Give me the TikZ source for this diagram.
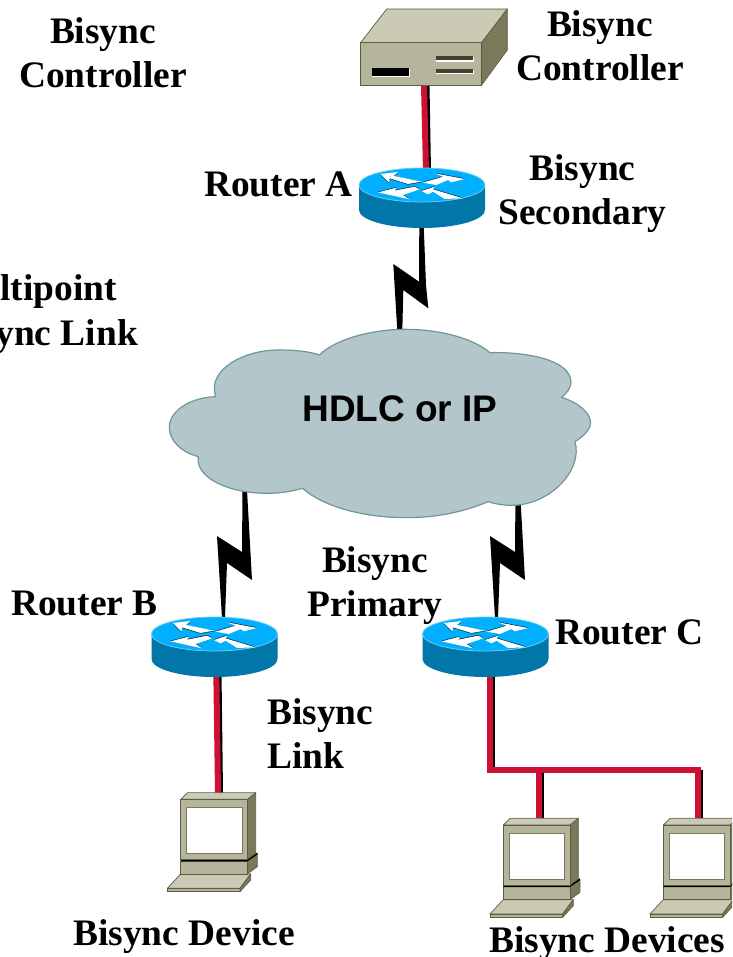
\documentclass[tikz,border=0pt]{standalone}
\usepackage{fontspec}
\setmainfont{Liberation Serif}
\newfontfamily\labelsans{Liberation Sans}
\usetikzlibrary{calc}
\definecolor{cloudfill}{HTML}{B3C6C9}
\definecolor{cloudedge}{HTML}{6F9699}
\definecolor{rtop}{HTML}{00B0FF}
\definecolor{rside}{HTML}{0077A8}
\definecolor{rrim}{HTML}{66CCF5}
\definecolor{devfront}{HTML}{B5B59B}
\definecolor{devtop}{HTML}{CBCBB5}
\definecolor{devside}{HTML}{7A7A5A}
\definecolor{devedge}{HTML}{5C5C44}
\definecolor{linkred}{HTML}{CC1133}
\tikzset{
  lbl/.style={font=\bfseries\fontsize{37.4}{44}\selectfont,inner sep=0pt,text=black},
  anchorbox/.style={inner sep=0pt,minimum width=#1,minimum height=1pt},
  shadowline/.style={draw=black,line width=6pt},
  redline/.style={draw=linkred,line width=6pt},
  devpart/.style={draw=devedge,line width=0.7pt,line join=round},
  bolt/.style={fill=black},
  router/.pic={
    \path[fill=rside] (-63,0) -- (-63,25) arc[start angle=180,end angle=0,x radius=63,y radius=18] -- (63,0) -- cycle;
    \path[fill=rtop,draw=rrim,line width=0.8pt] (0,0) ellipse[x radius=63,y radius=17];
    \begin{scope}[x=0.3333pt,y=-0.3333pt]
      \fill[black,opacity=0.75,shift={(0,2)}] (-125,-33)--(-72,-39)--(-85,-27)--(-2,-10)--(-42,-3)--(-97,-20)--(-99,-7)--cycle;
      \fill[black,opacity=0.75,shift={(0,-2)}] (3,-7)--(63,-25)--(38,-35)--(128,-18)--(88,-8)--(78,-15)--(43,0)--cycle;
      \fill[black,opacity=0.75,shift={(0,-2)}] (-132,22)--(-77,8)--(-82,17)--(-22,5)--(-7,13)--(-57,30)--(-37,43)--cycle;
      \fill[black,opacity=0.75,shift={(0,-2)}] (-2,18)--(38,5)--(33,13)--(123,40)--(68,42)--(33,20)--(18,28)--cycle;
      \fill[white] (-125,-33)--(-72,-39)--(-85,-27)--(-2,-10)--(-42,-3)--(-97,-20)--(-99,-7)--cycle;
      \fill[white] (3,-7)--(63,-25)--(38,-35)--(128,-18)--(88,-8)--(78,-15)--(43,0)--cycle;
      \fill[white] (-132,22)--(-77,8)--(-82,17)--(-22,5)--(-7,13)--(-57,30)--(-37,43)--cycle;
      \fill[white] (-2,18)--(38,5)--(33,13)--(123,40)--(68,42)--(33,20)--(18,28)--cycle;
    \end{scope}
  },
  terminal/.pic={
    \begin{scope}[x=0.3333pt,y=-0.3333pt]
      \path[fill=devtop,devpart] (-40,267)--(0,224)--(210,224)--(178,267)--cycle;
      \path[fill=devfront,devpart] (-40,267)--(178,267)--(178,277)--(-40,277)--cycle;
      \path[fill=devside,devpart] (178,267)--(210,224)--(210,242)--(178,277)--cycle;
      \path[fill=devside,devpart] (200,185)--(230,162)--(230,202)--(200,224)--cycle;
      \path[fill=devfront,devpart] (0,185)--(200,185)--(200,224)--(0,224)--cycle;
      \fill[black] (0,180)--(200,180)--(230,160)--(230,166)--(200,186)--(0,186)--cycle;
      \path[fill=devside,devpart] (200,0)--(225,-20)--(225,162)--(200,180)--cycle;
      \path[fill=devtop,devpart] (0,0)--(20,-20)--(225,-20)--(200,0)--cycle;
      \path[fill=devfront,devpart] (0,0) rectangle (200,180);
      \path[fill=white,draw=devside,line width=1pt] (18,25) rectangle (185,162);
    \end{scope}
  },
}
\begin{document}
\begin{tikzpicture}[x=1pt,y=-1pt]
\useasboundingbox (0,0) rectangle (732,957);
\clip (0,0) rectangle (732,957);

% invisible named anchors
\node[anchorbox=120pt] (ctrl) at (421,85) {};
\node[anchorbox=126pt] (ra) at (422,172) {};
\node[anchorbox=126pt] (raB) at (422,228) {};
\node[anchorbox=126pt] (rb) at (214.5,617) {};
\node[anchorbox=126pt] (rbB) at (214.5,672) {};
\node[anchorbox=126pt] (rc) at (485.5,617) {};
\node[anchorbox=126pt] (rcB) at (485.5,672) {};
\node[anchorbox=66pt] (pcb) at (214,793) {};
\node[anchorbox=66pt] (pcx) at (537,818) {};
\node[anchorbox=66pt] (pcy) at (697,818) {};
\coordinate (busl) at (489.5,769.5);
\coordinate (busr) at (698,769.5);
\coordinate (tap) at (538.7,769.5);

% links with black shadow
\draw[shadowline] ([xshift=5.5pt]ctrl.center) -- ([xshift=6pt]ra.center);
\draw[redline] ([xshift=3pt]ctrl.center) -- ([xshift=4pt]ra.center);
\draw[shadowline] ([xshift=4pt]rbB.center) -- ([xshift=6pt]pcb.center);
\draw[redline] ([xshift=1.8pt]rbB.center) -- ([xshift=4pt]pcb.center);
\draw[shadowline] ([xshift=6.5pt]rcB.center) -- ([xshift=2.5pt]busl);
\draw[shadowline] ([xshift=2pt]tap) -- ([xshift=3.7pt]pcx.center);
\draw[shadowline] ([xshift=2pt]busr) -- ([xshift=3pt]pcy.center);
\draw[redline] ([xshift=4pt]rcB.center) -- (busl);
\draw[redline] (tap) -- ([xshift=1.7pt]pcx.center);
\draw[redline] (busr) -- ([xshift=1pt]pcy.center);
\draw[redline,line cap=rect] (busl) -- (busr);

% bolts
\fill[bolt] (419.3,226)--(423.7,226)--(426,285)--(428.3,308.3)--(403.3,290)--(402.3,331)--(397.3,331)--(393.3,264)--(419,281.7)--cycle;
\foreach \dx in {0,273}{
  \fill[bolt,xshift=\dx pt] (242.5,490)--(247,490)--(252,580)--(227,563)--(225,618)--(222,618)--(217,536)--(242,552)--cycle;
}

% cloud
\begin{scope}[shift={(150,320)},x=0.3333pt,y=-0.3333pt]
\path[fill=cloudfill,draw=cloudedge,line width=1.2pt,line join=miter]
 (197,230) .. controls (170,150) and (280,90) .. (385,90) .. controls (440,90) and (480,95) .. (508,105)
 .. controls (560,55) and (670,28) .. (765,28) .. controls (870,28) and (970,55) .. (1020,98)
 .. controls (1130,95) and (1265,120) .. (1263,188) .. controls (1262,205) and (1250,220) .. (1235,232)
 .. controls (1290,250) and (1322,280) .. (1322,310) .. controls (1320,330) and (1300,350) .. (1275,365)
 .. controls (1300,450) and (1200,556) .. (1085,556) .. controls (1060,556) and (1035,552) .. (1015,545)
 .. controls (930,580) and (850,593) .. (770,593) .. controls (640,593) and (520,560) .. (458,505)
 .. controls (420,515) and (390,520) .. (350,520) .. controls (240,520) and (135,475) .. (145,410)
 .. controls (90,395) and (58,360) .. (58,322) .. controls (58,270) and (125,232) .. (197,230) -- cycle;
\end{scope}

% controller
\begin{scope}[shift={(340,0)},x=0.3333pt,y=-0.3333pt]
\path[fill=devtop,devpart] (62,128)--(140,27)--(502,27)--(425,128)--cycle;
\path[fill=devside,devpart] (425,128)--(502,27)--(502,150)--(425,255)--cycle;
\path[fill=devfront,devpart] (62,128) rectangle (425,255);
\fill[white] (96,208) rectangle (210,232);
\fill[black] (96,205) rectangle (208,229);
\fill[white] (289,172) rectangle (402,185);
\fill[devedge!70!black] (289,168) rectangle (400,181);
\fill[white] (289,211) rectangle (402,223);
\fill[devedge!70!black] (289,207) rectangle (400,219);
\end{scope}

% routers and terminals
\pic at (422,185) {router};
\pic at (214.5,634) {router};
\pic at (485.5,634) {router};
\pic at (180.7,799.3) {terminal};
\pic at (503.3,825) {terminal};
\pic at (663.3,825) {terminal};

% labels
\node[lbl,align=center] (t1) at (103,53) {Bisync\\Controller};
\node[lbl,align=center] (t2) at (600,46) {Bisync\\Controller};
\node[lbl,anchor=base west] (t3) at (204,197) {Router A};
\node[lbl,align=center] (t4) at (582.5,194) {Bisync\\Secondary};
\node[lbl,anchor=base east] (t5) at (117,301) {Multipoint};
\node[lbl,anchor=base east] (t6) at (138,345) {Bisync Link};
\node[font=\labelsans\bfseries\fontsize{37}{44}\selectfont,inner sep=0pt] (t7) at (400,409) {HDLC or IP};
\node[lbl,align=center] (t8) at (375,586) {Bisync\\Primary};
\node[lbl,anchor=base west] (t9) at (11,615) {Router B};
\node[lbl,anchor=base west] (t10) at (555,644) {Router C};
\node[lbl,align=left,anchor=west] (t11) at (267,734) {Bisync\\Link};
\node[lbl,anchor=base] (t12) at (184,945) {Bisync Device};
\node[lbl,anchor=base] (t13) at (607,952) {Bisync Devices};
\end{tikzpicture}
\end{document}
